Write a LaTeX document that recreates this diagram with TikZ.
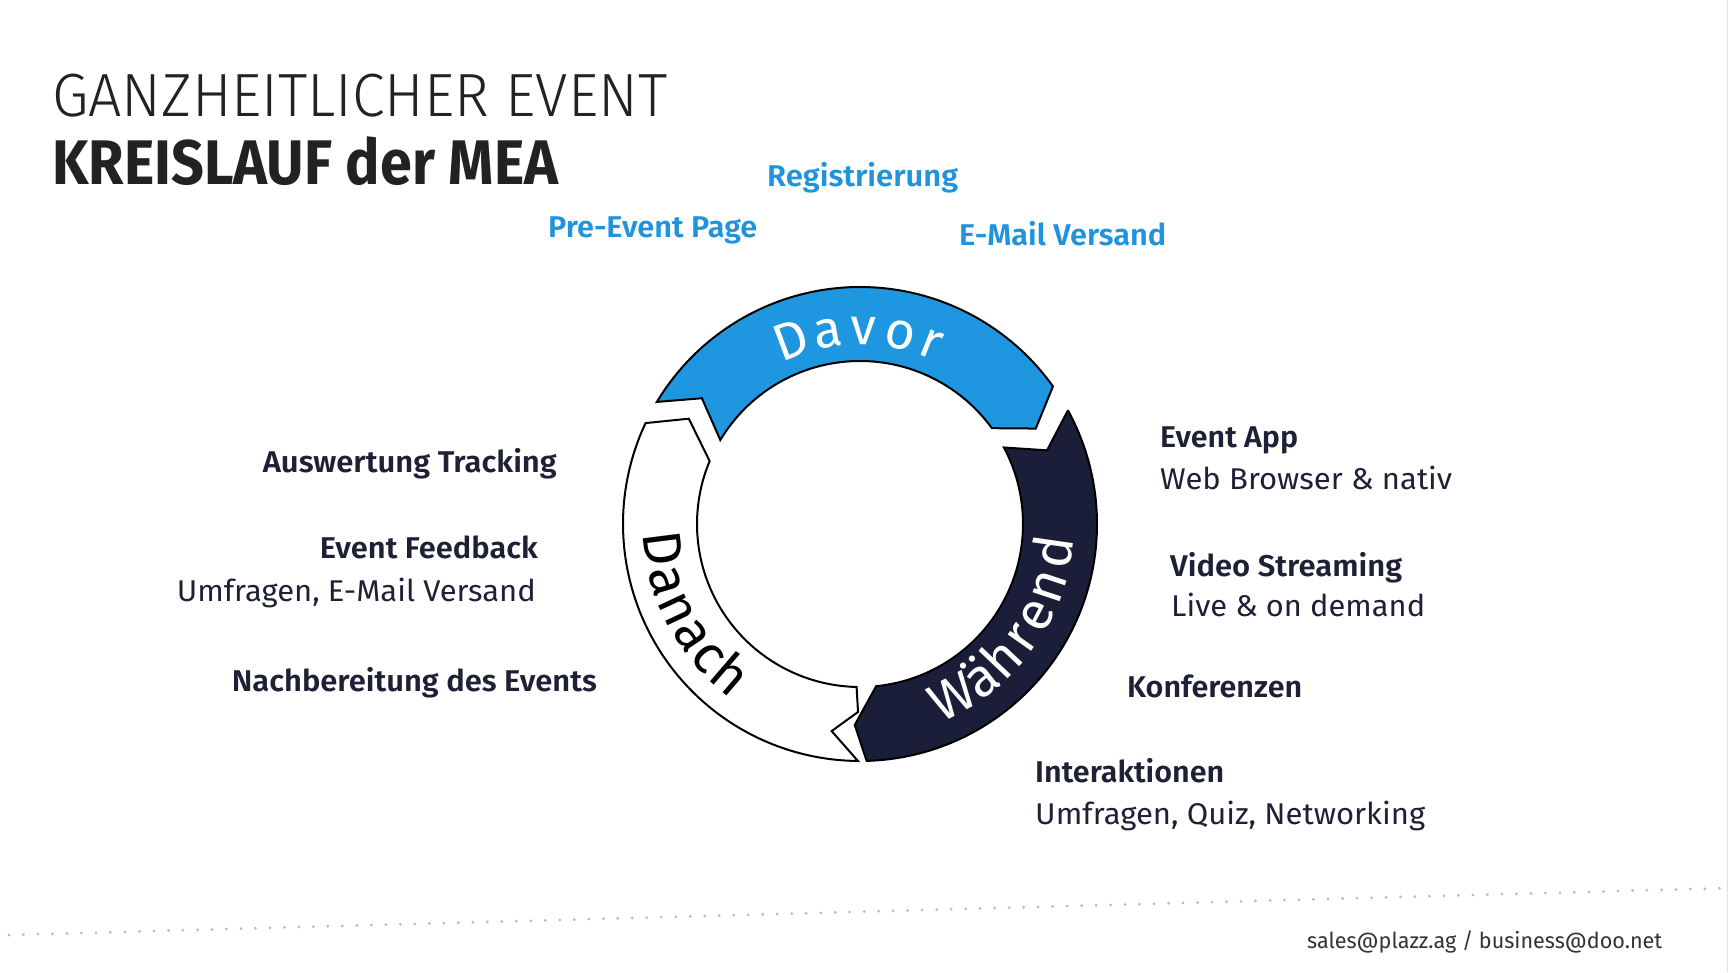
\documentclass[tikz,border=0pt]{standalone}
\usepackage{graphicx}
\usepackage{fontspec}
\setmainfont{Fira Sans}[BoldFont={Fira Sans SemiBold}]
\newfontfamily\titlelight{Fira Sans Light}
\newfontfamily\titlebold{Fira Sans Bold}
\definecolor{ringblue}{HTML}{1E96E0}
\definecolor{ringnavy}{HTML}{1B1E38}
\definecolor{labelnavy}{HTML}{1E2136}
\definecolor{labelblue}{HTML}{1F93DD}
\definecolor{titlegray}{HTML}{222222}
\definecolor{mailgray}{HTML}{333333}
\definecolor{dotgray}{HTML}{B8B8B8}
\newcommand{\fitto}[2]{\resizebox{#1pt}{\height}{#2}}
\begin{document}
\begin{tikzpicture}[x=1pt,y=1pt,
  ringline/.style={draw=black, line width=2pt, line join=miter},
  ringtxt/.style={inner sep=0pt, anchor=base, font=\fontsize{54}{64}\selectfont},
  davtxt/.style={ringtxt, font=\fontsize{52}{62}\selectfont},
  lbl/.style={inner sep=0pt, text=labelnavy, font=\fontsize{30}{36}\selectfont},
  lblb/.style={lbl, font=\fontsize{30}{36}\selectfont\bfseries},
  bluelbl/.style={inner sep=0pt, text=labelblue, font=\fontsize{30}{36}\selectfont\bfseries}]
\useasboundingbox (0,0) rectangle (1729,972);
\fill[white] (0,0) rectangle (1729,972);
% right edge hairline
\draw[gray!25, line width=1.5pt] (1727.5,0) -- (1727.5,972);
% dotted footer line
\coordinate (dl) at (9,37);
\coordinate (dr) at (1729,84);
\draw[dotgray, line width=3pt, line cap=round, dash pattern=on 0pt off 14.5pt] (dl) -- (dr);
% title
\node[inner sep=0pt, anchor=base west, text=titlegray, font=\fontsize{61}{70}\selectfont\titlelight] (t1) at (52,855) {\fitto{615}{GANZHEITLICHER EVENT}};
\node[inner sep=0pt, anchor=base west, text=titlegray, font=\fontsize{63}{72}\selectfont\titlebold] (t2) at (52,787) {\fitto{506}{KREISLAUF der MEA}};
% ring
\begin{scope}[shift={(860,448)}]
\draw[ringline, fill=ringblue] (149:237pt) -- (141.5:202pt) -- (149:163pt)
  arc[start angle=149, end angle=36, radius=163pt] -- (28.5:200pt) -- (35.5:237pt)
  arc[start angle=35.5, end angle=149, radius=237pt] -- cycle;
\draw[ringline, fill=ringnavy] (28.5:236pt) -- (21.5:201pt) -- (28:163pt)
  arc[start angle=28, end angle=-84.3, radius=163pt] -- (-91.5:201pt) -- (-88.4:237pt)
  arc[start angle=-88.4, end angle=28.5, radius=237pt] -- cycle;
\draw[ringline, fill=white] (-90.5:237pt) -- (-97.8:209pt) -- (-90.6:188pt) -- (-91.2:163pt)
  arc[start angle=-91.2, end angle=-202.7, radius=163pt] -- (-211.6:201pt) -- (-205.2:237pt)
  arc[start angle=-205.2, end angle=-90.5, radius=237pt] -- cycle;
% Davor
\node[davtxt, text=white, rotate=20.5] (dv1) at (110.5:179pt) {D};
\node[davtxt, text=white, rotate=9.6] (dv2) at (99.6:179pt) {a};
\node[davtxt, text=white, rotate=-1] (dv3) at (89:179pt) {v};
\node[davtxt, text=white, rotate=-12] (dv4) at (78:179pt) {o};
\node[davtxt, text=white, rotate=-21.6] (dv5) at (68.4:179pt) {r};
% Waehrend
\node[ringtxt, text=white, rotate=28.2] (wa1) at (-61.8:214pt) {W};
\node[ringtxt, text=white, rotate=38] (wa2) at (-52:214pt) {ä};
\node[ringtxt, text=white, rotate=46.5] (wa3) at (-43.5:214pt) {h};
\node[ringtxt, text=white, rotate=54.8] (wa4) at (-35.2:214pt) {r};
\node[ringtxt, text=white, rotate=62.6] (wa5) at (-27.4:214pt) {e};
\node[ringtxt, text=white, rotate=71.7] (wa6) at (-18.3:214pt) {n};
\node[ringtxt, text=white, rotate=81.8] (wa7) at (-8.2:214pt) {d};
% Danach
\node[ringtxt, text=black, rotate=277.2] (da1) at (187.2:217pt) {D};
\node[ringtxt, text=black, rotate=286.6] (da2) at (196.6:217pt) {a};
\node[ringtxt, text=black, rotate=295.1] (da3) at (205.1:217pt) {n};
\node[ringtxt, text=black, rotate=303.6] (da4) at (213.6:217pt) {a};
\node[ringtxt, text=black, rotate=311.4] (da5) at (221.4:217pt) {c};
\node[ringtxt, text=black, rotate=319.4] (da6) at (229.4:217pt) {h};
\end{scope}
% blue labels (before)
\node[bluelbl, anchor=base west] (reg) at (767,785) {\fitto{191}{Registrierung}};
\node[bluelbl, anchor=base west] (pre) at (548,734) {\fitto{209}{Pre-Event Page}};
\node[bluelbl, anchor=base west] (mail) at (959,726) {\fitto{207}{E-Mail Versand}};
% left labels (after)
\node[lblb, anchor=base east] (aus) at (557,499) {\fitto{294}{Auswertung Tracking}};
\node[lblb, anchor=base east] (fb) at (538,413) {\fitto{218}{Event Feedback}};
\node[lbl, anchor=base east] (fb2) at (536,370) {\fitto{359}{Umfragen, E-Mail Versand}};
\node[lblb, anchor=base east] (nach) at (597,280) {\fitto{365}{Nachbereitung des Events}};
% right labels (during)
\node[lblb, anchor=base west] (app) at (1160,524) {\fitto{138}{Event App}};
\node[lbl, anchor=base west] (app2) at (1160,482) {\fitto{292}{Web Browser \& nativ}};
\node[lblb, anchor=base west] (vid) at (1170,395) {\fitto{232}{Video Streaming}};
\node[lbl, anchor=base west] (vid2) at (1171,355) {\fitto{254}{Live \& on demand}};
\node[lblb, anchor=base west] (konf) at (1127,274) {\fitto{175}{Konferenzen}};
\node[lblb, anchor=base west] (int) at (1035,189) {\fitto{189}{Interaktionen}};
\node[lbl, anchor=base west] (int2) at (1035,147) {\fitto{390}{Umfragen, Quiz, Networking}};
% footer mail
\node[inner sep=0pt, anchor=base west, text=mailgray, font=\fontsize{22}{26}\selectfont] (foot) at (1307,24) {\fitto{355}{sales@plazz.ag / business@doo.net}};
\end{tikzpicture}
\end{document}
